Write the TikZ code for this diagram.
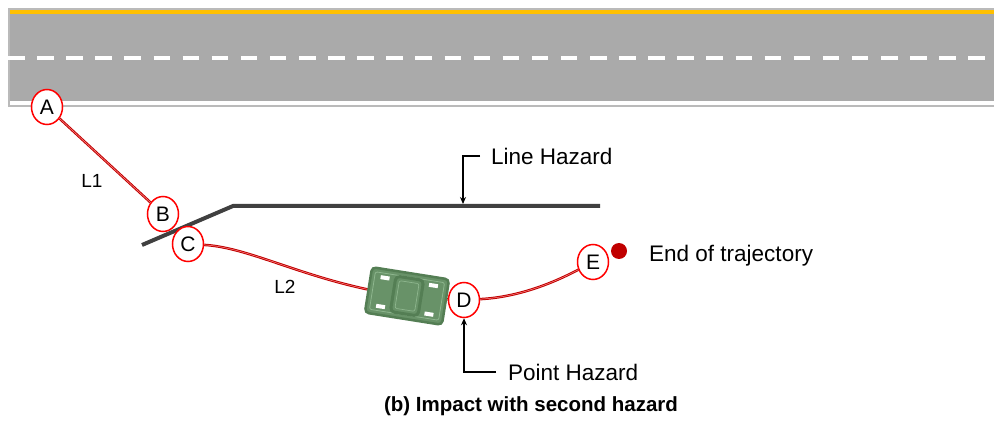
\documentclass[tikz,border=0pt]{standalone}
\usepackage{fontspec}
\setmainfont{Liberation Sans}
\usetikzlibrary{arrows.meta,positioning,shapes.geometric,calc}

\definecolor{roadgray}{RGB}{170,170,170}
\definecolor{roadedge}{RGB}{186,186,186}
\definecolor{laneyellow}{RGB}{255,192,0}
\definecolor{hazgray}{RGB}{64,64,64}
\definecolor{trajred}{RGB}{192,0,0}
\definecolor{cardark}{RGB}{84,126,84}
\definecolor{carmid}{RGB}{104,146,104}
\definecolor{carlight}{RGB}{142,182,142}

\begin{document}
\begin{tikzpicture}[
  x=1pt, y=-1pt,
  >={Stealth[length=7pt,width=6pt]},
  pt/.style={ellipse, draw=red, line width=1.5pt, fill=white, minimum width=31pt, minimum height=35pt, inner sep=0pt, font=\fontsize{21}{21}\selectfont},
  traj/.style={draw=trajred, line width=1pt, double=red!45!white, double distance=0.5pt},
  hazard/.style={draw=hazgray, line width=4pt},
  callout/.style={->, line width=1.1pt},
  lbl/.style={font=\fontsize{22.5}{24}\selectfont, inner sep=0pt},
  seg/.style={font=\fontsize{19}{20}\selectfont, inner sep=0pt}
]
  \useasboundingbox (0,0) rectangle (994,422);

  % road
  \fill[roadedge] (8,8) rectangle (994,107);
  \fill[roadgray] (10,10) rectangle (994,105);
  \fill[laneyellow] (10,10) rectangle (994,14);
  \fill[white] (10,101) rectangle (994,105);
  \draw[white, line width=4pt, dash pattern=on 16.5pt off 12.6pt] (8,58) -- (994,58);

  % hazards
  \draw[hazard] (142,245) -- (233,206) -- (600,206);
  \coordinate (lhit) at (463,204);

  % trajectory points
  \node[pt] (A) at (47,107) {A};
  \node[pt] (B) at (163,214) {B};
  \node[pt] (C) at (188,244) {C};
  \node[pt] (D) at (464,300) {D};
  \node[pt] (E) at (593,262) {E};
  \node[circle, fill=trajred, minimum size=16pt, inner sep=0pt] (stop) at (619,251) {};

  \draw[traj] (A) -- (B);
  \draw[traj] (C) .. controls (260,248) and (330,295) .. (D);
  \draw[traj] (D) .. controls (520,297) and (555,282) .. (E);

  \node[seg] (l1) at (92,181) {L1};
  \node[seg] (l2) at (285,287) {L2};

  % vehicle
  \begin{scope}[shift={(407,296)}, rotate=-9]
    \draw[fill=carmid, draw=cardark, line width=2.5pt, rounded corners=4pt] (-39,-23) rectangle (39,23);
    \draw[carlight, line width=0.8pt, rounded corners=2pt] (-35,-19) rectangle (35,19);
    \draw[fill=carmid, draw=cardark, line width=3pt, rounded corners=4pt] (-14,-18) rectangle (14,18);
    \draw[carlight, line width=0.7pt, rounded corners=2pt] (-10,-14) rectangle (10,14);
    \fill[white] (-29,-16.5) rectangle (-20,-12.5);
    \fill[white] (-29,12.5) rectangle (-20,16.5);
    \fill[white] (20,-16.5) rectangle (29,-12.5);
    \fill[white] (20,12.5) rectangle (29,16.5);
  \end{scope}

  % labels and callouts
  \node[lbl, anchor=west] (lhaz) at (491,156) {Line Hazard};
  \node[lbl, anchor=west] (phaz) at (508,372) {Point Hazard};
  \node[lbl, anchor=west] (etraj) at (649,256) {End of trajectory};

  \draw[callout] ([xshift=-11pt]lhaz.west) -| (lhit);
  \draw[callout] ([xshift=-12pt]phaz.west) -| (D);

  \node[font=\bfseries\fontsize{20.5}{21}\selectfont, inner sep=0pt] (cap) at (531,406) {(b) Impact with second hazard};
\end{tikzpicture}
\end{document}
